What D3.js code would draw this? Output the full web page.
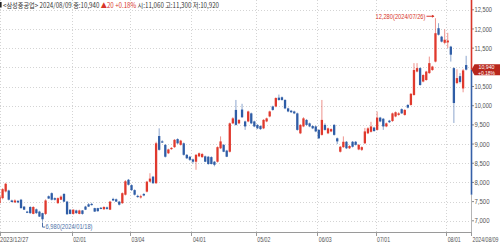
<!DOCTYPE html>
<html><head><meta charset="utf-8">
<script src="https://cdn.jsdelivr.net/npm/d3@7"></script>
<style>html,body{margin:0;padding:0;background:#fff;overflow:hidden}svg{display:block}</style>
</head><body>
<svg id="c" width="500" height="245"></svg>
<script>
// ---- data ----
const opens  = [7460,7590,7765,7790,7530,7480,7520,7550,7370,7240,7360,7180,7300,7240,7200,7180,7640,7720,7590,7460,7550,7700,7500,7290,7180,7270,7180,7270,7370,7430,7440,7330,7330,7340,7300,7350,7290,7570,7560,7500,7460,7680,8070,
 7930,7800,7650,7620,7700,7760,8020,8150,7980,9210,9070,8980,8760,8870,8920,9130,8980,9020,8720,8670,8600,8540,8680,8660,8680,8670,8660,8540,8540,8890,8980,8830,8800,9540,9890,9540,9900,
 9590,9590,9800,9590,9500,9470,9410,9590,9720,9980,9980,10210,10220,10150,9930,9870,9850,9800,9280,9460,9630,9540,9470,9460,9370,9240,9500,9280,9330,9500,9150,8800,8920,9060,8890,9060,9060,8860,8850,9020,
 9280,9320,9430,9370,9690,9660,9460,9610,9600,9720,9760,9910,9760,10020,10020,10280,10890,10980,10630,10670,10850,10930,11150,12020,11800,11640,11650,11540,10980,10590,10770,10450,11060];
const highs  = [7680,7850,7990,7810,7550,7560,7540,7570,7380,7260,7380,7380,7320,7260,7210,7560,7660,7740,7610,7610,7660,7720,7520,7300,7300,7290,7290,7280,7390,7460,7470,7340,7340,7360,7380,7370,7520,7600,7580,7520,7740,8060,8090,
 7950,7820,7680,7680,7720,8040,8240,8170,9060,9410,9100,9000,8880,8920,9130,9150,9110,9040,8740,8690,8620,8740,8780,8770,8700,8690,8680,8560,8940,9200,9000,8850,9560,9700,10150,9650,10050,
 9610,9870,9820,9610,9520,9490,9650,9690,9870,10000,10220,10290,10240,10170,9950,9890,9870,9820,9520,9700,9650,9560,9490,9480,9390,10150,9540,9430,9410,9520,9170,8950,9200,9080,8970,9080,9080,9000,8940,9420,
 9440,9580,9450,9850,9710,9680,9560,9630,9820,9850,9830,9930,9910,10040,10330,11110,11110,11000,10820,10910,11280,11040,12280,12150,11820,11990,11900,11560,11000,10950,10850,10960,11300];
const lows   = [7440,7560,7740,7530,7480,7470,7460,7320,7280,7200,7180,7170,7180,7100,6980,7150,7570,7530,7530,7440,7540,7490,7160,7170,7160,7180,7170,7160,7280,7360,7400,7230,7240,7300,7290,7290,7280,7520,7490,7400,7440,7660,7920,
 7780,7660,7600,7580,7640,7740,8000,7960,7960,8830,9030,8650,8740,8850,8900,9000,8960,8700,8610,8560,8490,8330,8660,8640,8530,8460,8470,8420,8520,8870,8790,8660,8780,9520,9480,9520,9680,
 9370,9570,9520,9440,9390,9370,9390,9570,9700,9870,9960,10130,10130,9910,9830,9810,9780,9350,9260,9440,9480,9440,9390,9310,9130,9220,9350,9260,9310,9220,9000,8780,8900,8870,8870,8910,8960,8840,8820,9000,
 9260,9300,9320,9350,9570,9370,9440,9550,9580,9700,9740,9790,9740,9930,10000,10260,10870,10520,10610,10650,10830,10910,11130,11830,11650,11600,11500,11150,9550,10560,10580,10350,10920];
const closes = [7635,7825,7965,7550,7490,7530,7480,7330,7290,7220,7200,7360,7200,7110,7040,7530,7580,7550,7550,7590,7630,7500,7170,7180,7290,7200,7270,7180,7290,7370,7410,7240,7250,7320,7360,7310,7500,7530,7500,7420,7720,8030,7940,
 7800,7680,7620,7640,7660,8020,8100,7980,9020,8850,9060,8670,8860,8900,9110,9020,9090,8720,8630,8590,8540,8720,8760,8740,8540,8480,8480,8460,8920,9070,8800,8670,9540,9670,9500,9630,9700,
 9460,9850,9540,9460,9410,9390,9630,9670,9850,9890,10200,10150,10150,9930,9850,9830,9800,9370,9500,9670,9500,9460,9410,9330,9150,9630,9370,9410,9390,9240,9070,8930,9060,8890,8950,8930,8980,8980,8920,9330,
 9410,9460,9340,9690,9590,9460,9540,9570,9800,9830,9800,9800,9890,9950,10310,10930,10980,10540,10800,10890,11110,11020,11890,11850,11670,11720,11700,11330,10070,10720,10620,10920,10940];
const tickIdx    = [0,24,43,63,84,104,123,146];
const tickLabels = ["2023/12/27","02/01","03/04","04/01","05/02","06/03","07/01","08/01"];
const lastLabel  = "2024/08/09";
const priceTicks = [7000,7500,8000,8500,9000,9500,10000,10500,11000,11500,12000,12500];
const lastClose = 10940;
const hiNote = "12,280(2024/07/26)", hiIdx = 142, hiVal = 12280;
const loNote = "6,980(2024/01/18)",  loIdx = 14,  loVal = 6980;
const headerParts = ["<삼성중공업> 2024/08/09 종:10,940 ", "▲20 +0.18% ", "시:11,060 고:11,300 저:10,920"];

// ---- chart ----
const RED = "#e0392d", BLUE = "#2f5da6";
const svg = d3.select("#c");
const plotR = 471.5, axisY = 232;
const x = d3.scaleLinear().domain([0, 153]).range([-2, 467.7]);
const y = d3.scaleLinear().domain([7000, 12500]).range([220.8, 9.8]);
const fmt = d3.format(",");
const FONT = "Liberation Sans, Arial, sans-serif";

// grid
const g = svg.append("g");
g.selectAll(".hg").data(priceTicks).join("line")
  .attr("x1", 0).attr("x2", plotR).attr("y1", d => Math.round(y(d)) + 0.5).attr("y2", d => Math.round(y(d)) + 0.5)
  .attr("stroke", "#d4d4d4").attr("stroke-width", 1).attr("stroke-dasharray", "1,2");
g.selectAll(".vg").data(tickIdx).join("line")
  .attr("x1", d => Math.max(0.5, Math.round(x(d)) + 0.5)).attr("x2", d => Math.max(0.5, Math.round(x(d)) + 0.5))
  .attr("y1", 0).attr("y2", axisY)
  .attr("stroke", "#d4d4d4").attr("stroke-width", 1).attr("stroke-dasharray", "1,2");

// candles
const idx = d3.range(opens.length);
const cw = 2.3;
const cg = svg.append("g");
cg.selectAll(".wick").data(idx).join("line")
  .attr("x1", i => x(i + 0.5)).attr("x2", i => x(i + 0.5))
  .attr("y1", i => y(highs[i])).attr("y2", i => y(lows[i]))
  .attr("stroke", i => closes[i] >= opens[i] ? RED : BLUE).attr("stroke-opacity", 0.55).attr("stroke-width", 1);
cg.selectAll(".body").data(idx).join("rect")
  .attr("x", i => x(i + 0.5) - cw / 2).attr("width", cw)
  .attr("y", i => y(Math.max(opens[i], closes[i])))
  .attr("height", i => Math.max(1.2, Math.abs(y(opens[i]) - y(closes[i]))))
  .attr("fill", i => closes[i] >= opens[i] ? RED : BLUE);

// bottom axis
const ax = svg.append("g");
ax.append("line").attr("x1", 0).attr("x2", plotR).attr("y1", axisY + 0.5).attr("y2", axisY + 0.5).attr("stroke", "#9a9a9a");
ax.selectAll(".tk").data(tickIdx).join("line")
  .attr("x1", d => Math.max(0.5, Math.round(x(d)) + 0.5)).attr("x2", d => Math.max(0.5, Math.round(x(d)) + 0.5))
  .attr("y1", axisY).attr("y2", axisY + 4).attr("stroke", "#9a9a9a");
ax.selectAll(".tl").data(tickIdx).join("text")
  .attr("x", (d, i) => i === 0 ? 0 : x(d) + 1.5).attr("y", 242)
  .attr("font-family", FONT).attr("font-size", 7.5).attr("fill", "#555")
  .attr("textLength", (d, i) => tickLabels[i].length > 5 ? 28.5 : 13).attr("lengthAdjust", "spacingAndGlyphs")
  .text((d, i) => tickLabels[i]);
ax.append("text").attr("x", 472.5).attr("y", 242)
  .attr("font-family", FONT).attr("font-size", 7.5).attr("fill", "#555")
  .attr("textLength", 26).attr("lengthAdjust", "spacingAndGlyphs").text(lastLabel);
ax.append("line").attr("x1", plotR).attr("x2", plotR).attr("y1", axisY).attr("y2", axisY + 4).attr("stroke", "#9a9a9a");

// right axis
const py = y(lastClose);
const shown = priceTicks.filter(d => Math.abs(y(d) - py) > 7);
const ry = svg.append("g");
ry.selectAll(".rt").data(shown).join("line")
  .attr("x1", plotR).attr("x2", plotR + 2.5).attr("y1", d => y(d)).attr("y2", d => y(d)).attr("stroke", "#888");
ry.selectAll(".rl").data(shown).join("text")
  .attr("x", 474.5).attr("y", d => y(d) + 2.6)
  .attr("font-family", FONT).attr("font-size", 7.5).attr("fill", "#555")
  .attr("textLength", d => d >= 10000 ? 17.5 : 15).attr("lengthAdjust", "spacingAndGlyphs")
  .text(d => fmt(d));
ry.append("line").attr("x1", plotR).attr("x2", plotR).attr("y1", y(7680)).attr("y2", axisY).attr("stroke", "#b5b5b5").attr("stroke-width", 1);
ry.append("line").attr("x1", plotR).attr("x2", plotR).attr("y1", 0).attr("y2", py).attr("stroke", "#d8352a").attr("stroke-width", 1.6);
ry.append("line").attr("x1", plotR).attr("x2", plotR).attr("y1", py).attr("y2", y(7680)).attr("stroke", "#3560a8").attr("stroke-width", 1.6);

// price box
svg.append("path")
  .attr("d", `M${plotR},${py} L${plotR + 3},${py - 5.5} L500,${py - 5.5} L500,${py + 5.5} L${plotR + 3},${py + 5.5} Z`)
  .attr("fill", "#b8261c");
svg.append("text").attr("x", 486.5).attr("y", py - 0.6).attr("text-anchor", "middle")
  .attr("font-family", FONT).attr("font-size", 6).attr("fill", "#fff")
  .attr("textLength", 16).attr("lengthAdjust", "spacingAndGlyphs").text(fmt(lastClose));
svg.append("text").attr("x", 486.5).attr("y", py + 4.9).attr("text-anchor", "middle")
  .attr("font-family", FONT).attr("font-size", 6).attr("fill", "#fff")
  .attr("textLength", 17).attr("lengthAdjust", "spacingAndGlyphs").text("+0.18%");

// high / low notes
const hx = x(hiIdx + 0.5), hy = y(hiVal);
svg.append("text").attr("x", hx - 10).attr("y", hy + 0.5).attr("text-anchor", "end")
  .attr("font-family", FONT).attr("font-size", 6.8).attr("fill", "#d8352a")
  .attr("textLength", 50).attr("lengthAdjust", "spacingAndGlyphs").text(hiNote);
svg.append("line").attr("x1", hx - 9).attr("x2", hx - 1.5).attr("y1", hy - 2).attr("y2", hy - 2).attr("stroke", "#d8352a");
svg.append("path").attr("d", `M${hx - 1},${hy - 2} L${hx - 3.5},${hy - 3.6} L${hx - 3.5},${hy - 0.4} Z`).attr("fill", "#d8352a");

const lx = x(loIdx + 0.5), ly = y(loVal);
svg.append("path").attr("d", `M${lx},${ly + 1} L${lx},${ly + 5.5} L${lx + 2.5},${ly + 5.5}`).attr("fill", "none").attr("stroke", "#4d6fa8");
svg.append("text").attr("x", lx + 3).attr("y", ly + 7.8)
  .attr("font-family", FONT).attr("font-size", 6.8).attr("fill", "#4d6fa8")
  .attr("textLength", 47).attr("lengthAdjust", "spacingAndGlyphs").text(loNote);

// header
svg.append("rect").attr("x", 0).attr("y", 2).attr("width", 1.6).attr("height", 5.5).attr("fill", "#222");
const ht = svg.append("text").attr("x", 3).attr("y", 7.8)
  .attr("font-family", "Noto Sans CJK KR, Liberation Sans, sans-serif").attr("font-size", 7)
  .attr("textLength", 216).attr("lengthAdjust", "spacingAndGlyphs");
ht.selectAll("tspan").data(headerParts).join("tspan")
  .attr("fill", (d, i) => i === 1 ? "#d8352a" : "#333")
  .text(d => d);
</script>
</body></html>
